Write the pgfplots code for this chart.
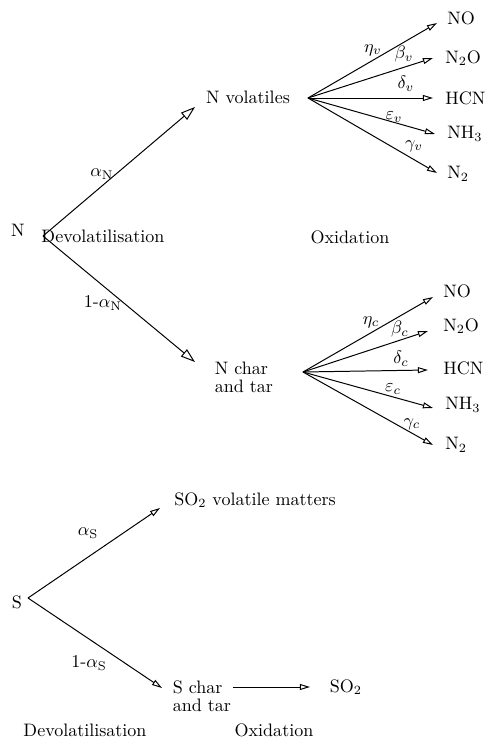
\documentclass[border=0pt]{standalone}
\usepackage{pgfplots}
\pgfplotsset{compat=1.18}
\usetikzlibrary{arrows.meta}
\begin{document}
\begin{tikzpicture}
\begin{axis}[
  width=268.6pt, height=412.9pt, scale only axis,
  xmin=0, xmax=484, ymin=0, ymax=744, y dir=reverse,
  hide axis, clip=false,
  big/.style={line width=0.55pt, black, -{Triangle[open,length=8pt,width=5.2pt]}},
  small/.style={line width=0.55pt, black, -{Triangle[open,length=5.6pt,width=3.3pt]}},
]
\draw[draw=none] (rel axis cs:0,0) rectangle (rel axis cs:1,1);
% Nitrogen devolatilisation
\addplot[big] coordinates {(43,236) (195,107)};
\addplot[big] coordinates {(43,236) (195,362)};
% N volatiles fan
\addplot[small] coordinates {(308,98) (437,23)};
\addplot[small] coordinates {(308,98) (433,58)};
\addplot[small] coordinates {(308,98) (433,98)};
\addplot[small] coordinates {(308,98) (435,134)};
\addplot[small] coordinates {(308,98) (437,173)};
% N char fan
\addplot[small] coordinates {(303,372) (433,297)};
\addplot[small] coordinates {(303,372) (428,331)};
\addplot[small] coordinates {(303,372) (428,370)};
\addplot[small] coordinates {(303,372) (433,408)};
\addplot[small] coordinates {(303,372) (433,445)};
% Sulphur
\addplot[small] coordinates {(28,598) (160,508)};
\addplot[small] coordinates {(28,598) (162,688)};
\addplot[small] coordinates {(233,687) (310,687)};

% labels
\node at (axis cs:18,230) {N};
\node at (axis cs:103,236) {Devolatilisation};
\node at (axis cs:350,237) {Oxidation};
\node at (axis cs:102,174) {$\alpha_{\mathrm{N}}$};
\node at (axis cs:103,303) {1-$\alpha_{\mathrm{N}}$};
\node at (axis cs:248,97) {N volatiles};
\node[align=left, inner sep=0pt] at (axis cs:244,377) {N char\\[-2pt]and tar};

\node[anchor=west] at (axis cs:441,18) {NO};
\node[anchor=west] at (axis cs:439,58) {N$_2$O};
\node[anchor=west] at (axis cs:439,98) {HCN};
\node[anchor=west] at (axis cs:441,134) {NH$_3$};
\node[anchor=west] at (axis cs:441,174) {N$_2$};
\node at (axis cs:373,50) {$\eta_v$};
\node at (axis cs:404,54) {$\beta_v$};
\node at (axis cs:406,84) {$\delta_v$};
\node at (axis cs:394,117) {$\varepsilon_v$};
\node at (axis cs:414,146) {$\gamma_v$};

\node[anchor=west] at (axis cs:437,291) {NO};
\node[anchor=west] at (axis cs:437,326) {N$_2$O};
\node[anchor=west] at (axis cs:437,368) {HCN};
\node[anchor=west] at (axis cs:439,405) {NH$_3$};
\node[anchor=west] at (axis cs:439,445) {N$_2$};
\node at (axis cs:371,322) {$\eta_c$};
\node at (axis cs:400,329) {$\beta_c$};
\node at (axis cs:401,359) {$\delta_c$};
\node at (axis cs:393,389) {$\varepsilon_c$};
\node at (axis cs:412,424) {$\gamma_c$};

\node[anchor=west] at (axis cs:168,500) {SO$_2$ volatile matters};
\node at (axis cs:17,602) {S};
\node at (axis cs:88,533) {$\alpha_{\mathrm{S}}$};
\node at (axis cs:89,663) {1-$\alpha_{\mathrm{S}}$};
\node[align=left, inner sep=0pt] at (axis cs:202,696) {S char\\[-2pt]and tar};
\node at (axis cs:346,687) {SO$_2$};
\node at (axis cs:85,730) {Devolatilisation};
\node at (axis cs:274,730) {Oxidation};
\end{axis}
\end{tikzpicture}
\end{document}
